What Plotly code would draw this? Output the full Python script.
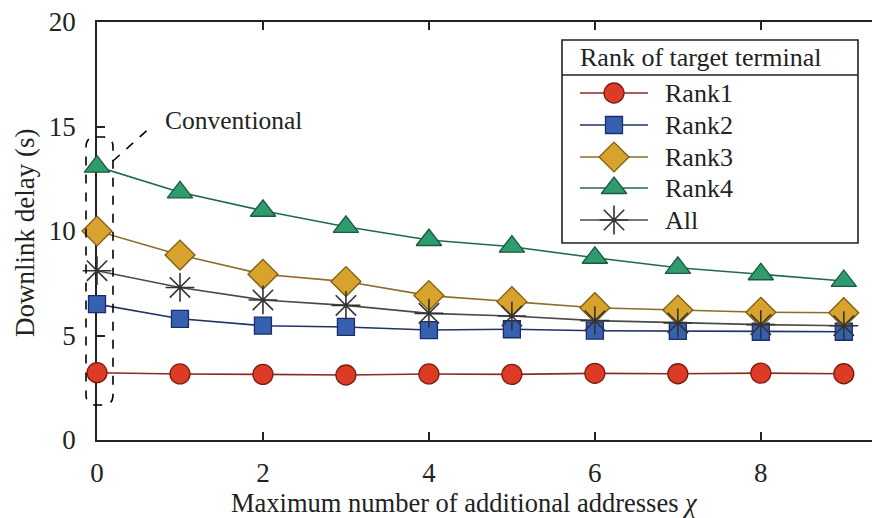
import plotly.graph_objects as go

# Maximum number of additional addresses (chi)
chi = [0, 1, 2, 3, 4, 5, 6, 7, 8, 9]

# Downlink delay (s) per rank of target terminal
rank1 = [3.22, 3.16, 3.14, 3.11, 3.16, 3.14, 3.19, 3.17, 3.20, 3.17]
rank2 = [6.50, 5.80, 5.47, 5.41, 5.26, 5.30, 5.23, 5.22, 5.18, 5.18]
rank3 = [10.00, 8.85, 7.93, 7.58, 6.91, 6.62, 6.33, 6.22, 6.11, 6.09]
rank4 = [13.08, 11.85, 10.97, 10.20, 9.57, 9.25, 8.72, 8.24, 7.93, 7.61]
all_ranks = [8.10, 7.30, 6.70, 6.44, 6.06, 5.93, 5.71, 5.60, 5.52, 5.47]

series_names = ["Rank1", "Rank2", "Rank3", "Rank4", "All"]
legend_title = "Rank of target terminal"
x_title = "Maximum number of additional addresses <i>χ</i>"
y_title = "Downlink delay (s)"
x_ticks = [0, 2, 4, 6, 8]
y_ticks = [0, 5, 10, 15, 20]

FONT = "Liberation Serif, Times New Roman, serif"
INK = "#222222"
W, H = 872, 518
ML, MR, MT, MB = 97, 0, 22, 78
PW, PH = W - ML - MR, H - MT - MB


def px_to_paper(xp, yp):
    """Convert page pixels (from the top-left) to paper fractions."""
    return (xp - ML) / PW, (H - MB - yp) / PH


styles = [
    dict(symbol="circle", size=20, fill="#de3b26", edge="#7c1b12", line="#8a2a22", lw=1.3),
    dict(symbol="square", size=17, fill="#3660b0", edge="#1c2d6a", line="#22306c", lw=1.3),
    dict(symbol="diamond", size=23, fill="#d8a32c", edge="#7d5c13", line="#8c6c28", lw=1.3),
    dict(symbol="triangle-up", size=22, fill="#2f9c6f", edge="#1b5a3c", line="#1f6a4a", lw=1.3),
    dict(symbol="asterisk-open", size=24, fill="#333333", edge="#333333", line="#4a4a4a", lw=1.6),
]
series = [rank1, rank2, rank3, rank4, all_ranks]

fig = go.Figure()
for name, ys, st in zip(series_names, series, styles):
    fig.add_trace(go.Scatter(
        x=chi, y=ys, name=name, mode="lines+markers", cliponaxis=False,
        showlegend=False,
        line=dict(color=st["line"], width=1.6),
        marker=dict(symbol=st["symbol"], size=st["size"], color=st["fill"],
                    line=dict(color=st["edge"], width=st["lw"])),
    ))

# ---- Legend box, drawn on an overlay axis measured in pixels from the top-left
LX0, LX1, LY0, LY1, LSEP = 562, 858, 40, 243, 75
row_y = [93, 125, 157, 188, 220]
sym_x0, sym_x1, txt_x = 580, 648, 663

fig.add_shape(type="rect", xref="x2", yref="y2", x0=LX0, x1=LX1, y0=LY0, y1=LY1,
              fillcolor="white", line=dict(color=INK, width=1.6), layer="below")
fig.add_shape(type="line", xref="x2", yref="y2", x0=LX0, x1=LX1, y0=LSEP, y1=LSEP,
              line=dict(color=INK, width=1.6), layer="below")
fig.add_annotation(text=legend_title, xref="x2", yref="y2", x=sym_x0 - 2, y=(LY0 + LSEP) / 2,
                   xanchor="left", yanchor="middle", showarrow=False,
                   font=dict(family=FONT, size=26, color=INK))
for name, yy, st in zip(series_names, row_y, styles):
    fig.add_trace(go.Scatter(
        x=[sym_x0, sym_x1], y=[yy, yy], xaxis="x2", yaxis="y2", mode="lines",
        showlegend=False, hoverinfo="skip", line=dict(color=st["line"], width=1.6)))
    fig.add_trace(go.Scatter(
        x=[(sym_x0 + sym_x1) / 2], y=[yy], xaxis="x2", yaxis="y2", mode="markers",
        showlegend=False, hoverinfo="skip", cliponaxis=False,
        marker=dict(symbol=st["symbol"], size=st["size"], color=st["fill"],
                    line=dict(color=st["edge"], width=st["lw"]))))
    fig.add_annotation(text=name, xref="x2", yref="y2", x=txt_x, y=yy,
                       xanchor="left", yanchor="middle", showarrow=False,
                       font=dict(family=FONT, size=26, color=INK))

# ---- Rounded dashed frame around the conventional scheme (chi = 0), in pixels
r = 10
xl, xr, yb, yt = -11, 16, 35, 303
frame = (f"M{xl + r},{yt} L{xr - r},{yt} Q{xr},{yt} {xr},{yt - r} "
         f"L{xr},{yb + r} Q{xr},{yb} {xr - r},{yb} "
         f"L{xl + r},{yb} Q{xl},{yb} {xl},{yb + r} "
         f"L{xl},{yt - r} Q{xl},{yt} {xl + r},{yt} Z")
fig.add_shape(type="path", path=frame, xref="paper", yref="paper",
              xsizemode="pixel", ysizemode="pixel", xanchor=0, yanchor=0,
              line=dict(color="black", width=1.6, dash="dash"), layer="above")

# Leader line to the label
fig.add_shape(type="line", xref="paper", yref="paper",
              xsizemode="pixel", ysizemode="pixel", xanchor=0, yanchor=0,
              x0=16, y0=279, x1=55, y1=314,
              line=dict(color="black", width=1.6, dash="dash"))
cx, cy = px_to_paper(163, 121)
fig.add_annotation(text="Conventional", xref="paper", yref="paper",
                   x=cx, y=cy, xanchor="left", yanchor="middle",
                   showarrow=False, font=dict(family=FONT, size=25.5, color=INK))

# Axis titles
tx, ty = px_to_paper(464, 503)
fig.add_annotation(text=x_title, xref="paper", yref="paper", x=tx, y=ty,
                   xanchor="center", yanchor="middle", showarrow=False,
                   font=dict(family=FONT, size=26.5, color=INK))
vx, vy = px_to_paper(25, 233)
fig.add_annotation(text=y_title, xref="paper", yref="paper", x=vx, y=vy,
                   textangle=-90, xanchor="center", yanchor="middle", showarrow=False,
                   font=dict(family=FONT, size=27, color=INK))

axis_common = dict(
    showline=True, linecolor=INK, linewidth=1.8, ticks="inside", ticklen=8,
    tickwidth=1.6, tickcolor=INK, showgrid=False, zeroline=False,
    tickfont=dict(family=FONT, size=27, color=INK), layer="below traces",
)

fig.update_layout(
    width=W, height=H, margin=dict(l=ML, r=MR, t=MT, b=MB),
    plot_bgcolor="white", paper_bgcolor="white",
    font=dict(family=FONT, size=27, color=INK),
    xaxis=dict(range=[0, 9.34], tickvals=x_ticks, mirror="ticks",
               ticklabelstandoff=8, **axis_common),
    yaxis=dict(range=[0, 20], tickvals=y_ticks, mirror=False,
               ticklabelstandoff=14, **axis_common),
    xaxis2=dict(overlaying="x", range=[ML, W], visible=False, fixedrange=True),
    yaxis2=dict(overlaying="y", range=[H - MB, MT], visible=False, fixedrange=True),
    showlegend=False,
)

fig.write_html("out.html")
